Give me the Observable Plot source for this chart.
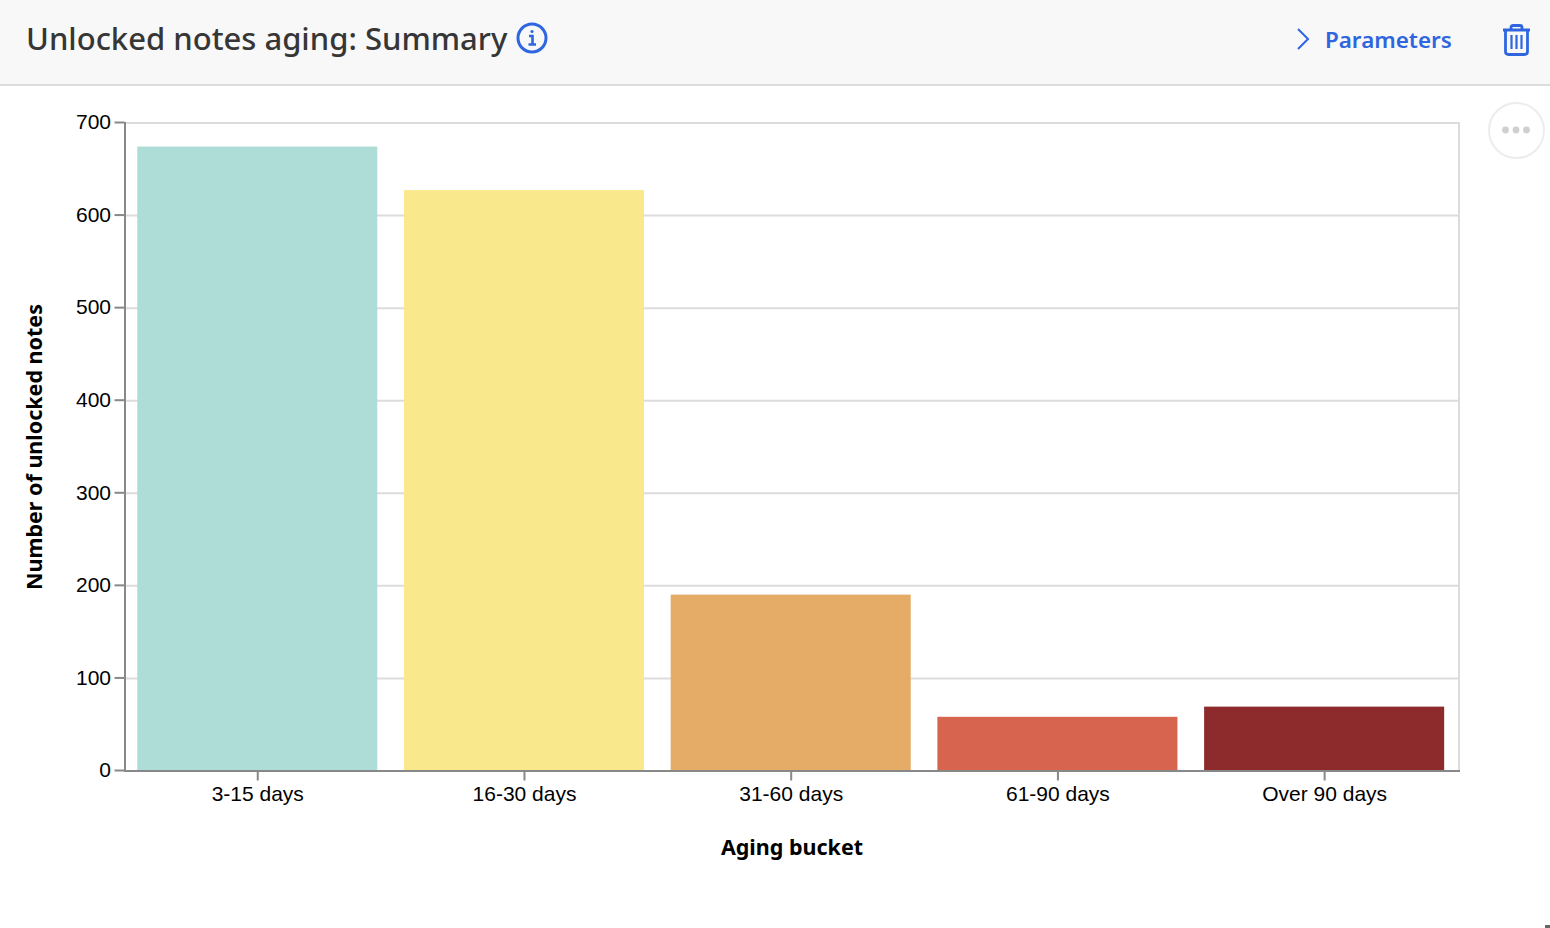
<!DOCTYPE html>
<html>
<head>
<meta charset="utf-8">
<script src="https://cdn.jsdelivr.net/npm/d3@7"></script>
<script src="https://cdn.jsdelivr.net/npm/@observablehq/plot@0.6"></script>
<style>
html,body{margin:0;padding:0;background:#fff;width:1550px;height:928px;overflow:hidden;font-family:"Noto Sans",sans-serif}
#header{position:absolute;left:0;top:0;width:1550px;height:84px;background:#f8f8f8;border-bottom:2px solid #dcdcdc}
#title{position:absolute;left:26px;top:18px;font-size:31px;line-height:40px;color:#363636;white-space:nowrap;font-weight:500}
#params{position:absolute;left:1325px;top:24px;font-size:22.4px;line-height:32px;color:#2f66e0;font-weight:600}
.icon{position:absolute;overflow:visible}
#more{position:absolute;left:1488px;top:102px;width:53px;height:53px;border:2px solid #ececec;border-radius:50%;background:#fff}
#chart{position:absolute;left:0;top:86px}
#chart svg{display:block}
#speck{position:absolute;left:1545px;top:925px;width:5px;height:3px;background:#666}
</style>
</head>
<body>
<div id="header">
  <div id="title">Unlocked notes aging: Summary</div>
  <svg class="icon" style="left:516px;top:22px" width="32" height="32" viewBox="0 0 32 32" fill="none" stroke="#2f66e0">
    <circle cx="16" cy="16" r="14" stroke-width="3"/>
    <circle cx="16" cy="9.5" r="1.6" fill="#2f66e0" stroke="none"/>
    <path d="M13 14h3.5v8M12.5 22.5h7.5" stroke-width="2.6"/>
  </svg>
  <svg class="icon" style="left:1296px;top:28px" width="14" height="22" viewBox="0 0 14 22" fill="none" stroke="#2f66e0" stroke-width="2">
    <path d="M2 1l10 10L2 21"/>
  </svg>
  <div id="params">Parameters</div>
  <svg class="icon" style="left:1502px;top:24px" width="29" height="32" viewBox="0 0 29 32" fill="none" stroke="#2f66e0" stroke-width="2.8">
    <path d="M1 6h27M9 6V3.5Q9 1.5 11 1.5h7Q20 1.5 20 3.5V6"/>
    <path d="M3.5 6v21.5q0 3 3 3h16q3 0 3-3V6"/>
    <path d="M9.5 11v14M14.5 11v14M19.500 11v14" stroke-width="2.2"/>
  </svg>
</div>
<div id="chart"></div>
<div id="more"></div>
<svg class="icon" style="left:1500px;top:124px" width="32" height="12" viewBox="0 0 32 12" fill="#cfcfcf">
  <circle cx="5.500" cy="6" r="3.400"/><circle cx="16" cy="6" r="3.400"/><circle cx="26.500" cy="6" r="3.400"/>
</svg>
<div id="speck"></div>
<script>
const buckets = ["3-15 days", "16-30 days", "31-60 days", "61-90 days", "Over 90 days"];
const counts = [674, 627, 190, 58, 69];
const colors = ["#aeddd8", "#fae98c", "#e5ac68", "#d6644e", "#8c2a2c"];
const yTicks = [0, 100, 200, 300, 400, 500, 600, 700];
const xTitle = "Aging bucket";
const yTitle = "Number of unlocked notes";

const rows = buckets.map((bucket, i) => ({bucket, count: counts[i]}));
const tickFont = {fontFamily: "'Liberation Sans', Arial, sans-serif", fontSize: 21};
const titleFont = {fontFamily: "'Noto Sans', sans-serif", fontSize: 21.5, fontWeight: 700, fill: "#000", textAnchor: "middle"};

const chart = Plot.plot({
  width: 1550,
  height: 842,
  marginTop: 36.5,
  marginBottom: 157.5,
  marginLeft: 124.5,
  marginRight: 91.5,
  style: {background: "transparent", overflow: "visible"},
  x: {domain: buckets, paddingInner: 0.1, paddingOuter: 0.05, round: false, range: [123.9, 1457.5], label: null},
  y: {domain: [0, 700], label: null},
  color: {type: "ordinal", domain: buckets, range: colors},
  marks: [
    Plot.gridY(yTicks, {stroke: "#dcdcdc", strokeOpacity: 1, strokeWidth: 2}),
    Plot.frame({anchor: "top", stroke: "#dcdcdc", strokeWidth: 2}),
    Plot.frame({anchor: "right", stroke: "#dcdcdc", strokeWidth: 2}),
    Plot.barY(rows, {x: "bucket", y: "count", fill: "bucket"}),
    Plot.frame({anchor: "left", stroke: "#888", strokeWidth: 2}),
    Plot.frame({anchor: "bottom", stroke: "#888", strokeWidth: 2}),
    Plot.axisY(yTicks, {
      anchor: "left", label: null, tickSize: 10, tickPadding: 4,
      stroke: "#888", strokeWidth: 2, color: "#000", dy: -0.5, ...tickFont
    }),
    Plot.axisX({
      anchor: "bottom", label: null, tickSize: 10, tickPadding: 5,
      stroke: "#888", strokeWidth: 2, color: "#000", ...tickFont
    }),
    Plot.text([xTitle], {text: d => d, frameAnchor: "bottom", dy: 68.5, lineAnchor: "top", ...titleFont}),
    Plot.text([yTitle], {text: d => d, frameAnchor: "left", dx: -90, rotate: -90, ...titleFont})
  ]
});
document.getElementById("chart").appendChild(chart);
</script>
</body>
</html>
